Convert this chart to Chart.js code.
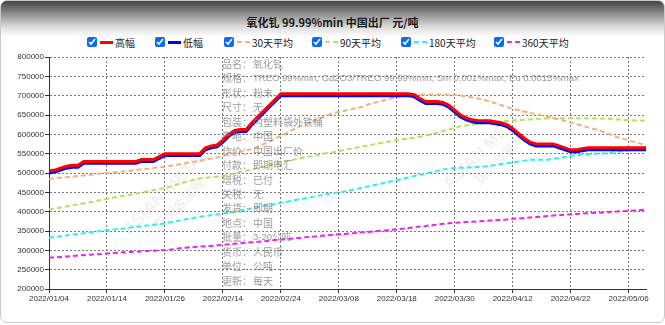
<!DOCTYPE html>
<html><head><meta charset="utf-8">
<script src="https://cdn.jsdelivr.net/npm/chart.js@4/dist/chart.umd.min.js"></script>
<style>
html,body{margin:0;padding:0;background:#fff;}
#frame{position:absolute;left:0;top:0;width:663px;height:321px;border:1px solid #c8c8c8;border-radius:7px;
 background:linear-gradient(#444 0px,#8f8f8f 13px,#dcdcdc 26px,#fff 36px,#fff 100%);overflow:hidden;}
#title{position:absolute;left:0;width:665px;top:14px;text-align:center;font:bold 11px "Noto Sans CJK SC",sans-serif;color:#1a1a1a;}
.lg{position:absolute;top:36px;height:12px;display:flex;align-items:center;font:10px "Noto Sans CJK SC",sans-serif;color:#222;white-space:nowrap;}
.lg input{width:10px;height:10px;margin:0 3px 0 0;accent-color:#0a6cf0;}
.sw{display:inline-block;width:13px;height:0;margin-right:2px;}
#c{position:absolute;left:0;top:0;}
</style></head>
<body>
<div id="frame"></div>
<div id="title">氧化钆 99.99%min 中国出厂 元/吨</div>
<div id="legend"></div>
<canvas id="c" width="665" height="325"></canvas>
<script>
const labels = [
"2022/01/04","2022/01/05","2022/01/06","2022/01/07","2022/01/08","2022/01/09","2022/01/10","2022/01/11","2022/01/12","2022/01/13",
"2022/01/14","2022/01/15","2022/01/17","2022/01/18","2022/01/19","2022/01/20","2022/01/21","2022/01/22","2022/01/24","2022/01/25",
"2022/01/26","2022/01/27","2022/01/28","2022/01/29","2022/01/30","2022/02/07","2022/02/08","2022/02/09","2022/02/10","2022/02/11",
"2022/02/14","2022/02/15","2022/02/16","2022/02/17","2022/02/18","2022/02/19","2022/02/20","2022/02/21","2022/02/22","2022/02/23",
"2022/02/24","2022/02/25","2022/02/26","2022/02/28","2022/03/01","2022/03/02","2022/03/03","2022/03/04","2022/03/05","2022/03/07",
"2022/03/08","2022/03/09","2022/03/10","2022/03/11","2022/03/12","2022/03/13","2022/03/14","2022/03/15","2022/03/16","2022/03/17",
"2022/03/18","2022/03/19","2022/03/21","2022/03/22","2022/03/23","2022/03/24","2022/03/25","2022/03/26","2022/03/28","2022/03/29",
"2022/03/30","2022/03/31","2022/04/01","2022/04/02","2022/04/06","2022/04/07","2022/04/08","2022/04/09","2022/04/10","2022/04/11",
"2022/04/12","2022/04/13","2022/04/14","2022/04/15","2022/04/16","2022/04/17","2022/04/18","2022/04/19","2022/04/20","2022/04/21",
"2022/04/22","2022/04/23","2022/04/24","2022/04/25","2022/04/26","2022/04/27","2022/04/28","2022/04/29","2022/04/30","2022/05/05",
"2022/05/06","2022/05/07","2022/05/09","2022/05/10"];

const high = [
505000,507500,512500,517500,520000,520000,530000,530000,530000,530000,
530000,530000,530000,530000,530000,530000,535000,535000,535000,542500,
550000,550000,550000,550000,550000,550000,550000,565000,570000,572500,
585000,600000,610000,612500,612500,630000,645000,660000,675000,690000,
705000,705000,705000,705000,705000,705000,705000,705000,705000,705000,
705000,705000,705000,705000,705000,705000,705000,705000,705000,705000,
705000,705000,705000,702500,692500,685000,685000,685000,682500,675000,
662500,650000,642500,637500,635000,635000,635000,632500,630000,625000,
615000,602500,590000,580000,575000,575000,575000,575000,570000,565000,
560000,560000,562500,565000,565000,565000,565000,565000,565000,565000,
565000,565000,565000,565000];

const low = [
500000,502500,507500,512500,515000,515000,525000,525000,525000,525000,
525000,525000,525000,525000,525000,525000,530000,530000,530000,537500,
545000,545000,545000,545000,545000,545000,545000,560000,565000,567500,
580000,595000,605000,607500,607500,625000,640000,655000,670000,685000,
700000,700000,700000,700000,700000,700000,700000,700000,700000,700000,
700000,700000,700000,700000,700000,700000,700000,700000,700000,700000,
700000,700000,700000,697500,687500,680000,680000,680000,677500,670000,
657500,645000,637500,632500,630000,630000,630000,627500,625000,620000,
610000,597500,585000,575000,570000,570000,570000,570000,565000,560000,
555000,555000,557500,560000,560000,560000,560000,560000,560000,560000,
560000,560000,560000,560000];

const avg30 = [
484500,486000,487500,489000,490500,492000,493500,495000,497000,498500,
500000,501500,503000,504500,506000,507500,509500,511000,513000,514500,
516300,518500,521000,524000,526500,529000,531500,534500,537500,540000,
544000,547500,551000,554500,558000,562000,568000,574500,581000,588500,
596000,604000,611500,619000,625000,631000,637000,643000,649000,655000,
658000,661000,664500,667500,670500,677000,681000,685000,689000,693000,
696500,700000,703000,703000,703000,703000,703000,703000,703000,702000,
701500,700500,698000,695500,692700,689000,685000,680500,676000,671000,
665500,662000,659000,655500,652500,649000,645500,642000,638500,634500,
630600,626500,622500,618000,614000,610000,604000,598500,593000,588500,
584000,580000,576000,572500];

const avg90 = [
406000,408500,411000,413500,416500,419000,421500,424500,427000,430000,
433000,436000,438500,441000,444000,446500,449500,452500,455500,458500,
461000,465500,470000,474000,478500,482500,486000,487500,489000,490500,
492000,495500,499000,502500,506000,509500,513000,516500,520000,523500,
527000,530500,534000,537000,540000,543000,545500,548500,551500,554000,
557000,560000,563000,565500,568500,571500,574000,577000,579500,582000,
584500,587000,589000,591500,593500,597000,600500,604500,608500,612500,
616500,621000,623000,625000,627000,629000,631000,632500,633500,634500,
635500,636500,637500,638500,639500,640500,641000,641500,641500,641500,
641500,641500,641500,641500,641500,641000,640500,639500,638500,637500,
636500,636000,635500,635000];

const avg180 = [
332500,334500,336500,338500,340500,342000,344000,346000,348000,350000,
352000,353500,355500,357000,359000,361000,362500,364500,366000,368000,
369500,372500,375500,378500,381500,384500,387000,388500,390500,392500,
394500,397500,400500,403000,406000,408500,411500,414500,417000,420000,
423000,425500,428500,431500,434000,437000,440000,442500,445500,448000,
449500,452500,455500,458500,462000,465000,468500,471500,475000,478500,
481500,485000,488500,492000,495500,499000,502000,505500,509000,512000,
513000,513500,514000,515000,515500,516500,518500,520500,523000,525500,
527500,529500,532000,534000,534000,534000,534000,536500,539000,541500,
544000,546500,547500,548500,549500,550500,551000,553000,555000,557000,
559000,561000,563500,565000];

const avg360 = [
281000,282000,283000,284000,285500,286500,287500,288500,289500,290500,
292000,293000,294000,295000,295500,296500,297500,298500,299000,300000,
301000,302000,304000,306000,307500,308500,309500,310500,311500,313000,
314000,315500,317000,318000,319500,321000,322000,323500,325000,326500,
327500,329000,330500,332000,333500,334500,336000,337500,339000,340000,
341500,342500,344000,345000,346500,347500,349000,350500,351500,353000,
354500,356000,358000,359500,361500,363000,365000,366500,368500,370000,
371000,372000,373000,374000,375000,376000,377000,378000,379000,380000,
381500,382500,383500,385000,386000,387500,388500,390000,391000,392000,
393000,394000,395000,396000,396500,397500,398500,399500,400500,401000,
402000,403000,404000,405000];

const seriesNames = ["高幅","低幅","30天平均","90天平均","180天平均","360天平均"];
const yTicksMin = 200000, yTicksMax = 800000, yStep = 50000;

const infoLabels = ["品名：","规格：","形状：","尺寸：","包装：","产地：","作价：","付款：","增税：","关税：","发货：","地点：","批量：","货币：","单位：","更新："];
const infoValues = ["氧化钆","TREO 99%min, Gd2O3/TREO 99.99%min, Sm 0.001%max, Eu 0.0015%max","粉末","无","内塑料袋外铁桶","中国","中国出厂价","即期电汇","已付","无","即期","中国","3-20公吨","人民币","公吨","每天"];

const colors = ["#ff0000","#0000ff","#f4b07c","#b3e263","#2ef0f0","#f020f0"];
const seriesData = [high, low, avg30, avg90, avg180, avg360];

// legend (HTML)
const legendX = [87,155,224,312,401,494];
const legend = document.getElementById('legend');
seriesNames.forEach((n,i)=>{
  const d = document.createElement('div');
  d.className='lg'; d.style.left = legendX[i]+'px';
  const cb = document.createElement('input'); cb.type='checkbox'; cb.checked=true;
  const sw = document.createElement('span'); sw.className='sw';
  sw.style.borderTop = (i<2 ? '3px solid ' : '2px dashed ') + colors[i];
  const t = document.createElement('span'); t.textContent = n;
  d.appendChild(cb); d.appendChild(sw); d.appendChild(t);
  legend.appendChild(d);
});

const overlay = {
  id:'overlay',
  beforeDatasetsDraw(chart){
    const ctx = chart.ctx;
    ctx.save();
    ctx.fillStyle='rgba(150,150,150,0.13)';
    ctx.font='bold 17px "Liberation Sans", Arial, sans-serif';
    [[170,195],[490,150]].forEach(([x,y])=>{
      ctx.save(); ctx.translate(x,y); ctx.rotate(-Math.PI/4);
      ctx.textAlign='center'; ctx.fillText('ASIAN METAL',0,0);
      ctx.font='bold 13px "Noto Sans CJK SC", sans-serif';
      ctx.fillText('亚洲金属网',0,18);
      ctx.restore();
    });
    ctx.restore();
  },
  afterDatasetsDraw(chart){
    const ctx = chart.ctx;
    ctx.save();
    ctx.fillStyle='rgba(120,120,120,0.75)';
    ctx.textBaseline='middle';
    infoLabels.forEach((l,i)=>{
      const y = 64 + i*14.47;
      ctx.font='10px "Noto Sans CJK SC", sans-serif';
      ctx.fillText(l,222,y);
      ctx.font='9.5px "Liberation Sans", Arial, "Noto Sans CJK SC", sans-serif';
      if (/[\u4e00-\u9fff]/.test(infoValues[i].charAt(0))) ctx.font='10px "Noto Sans CJK SC", sans-serif';
      ctx.fillText(infoValues[i],253,y);
    });
    ctx.restore();
  }
};

const ds = seriesData.map((d,i)=>({
  label: seriesNames[i], data: d, borderColor: colors[i], backgroundColor: colors[i],
  borderWidth: i<2 ? 3 : 2, borderDash: i<2 ? [] : [5,3], pointRadius:0, tension:0, fill:false
}));

new Chart(document.getElementById('c'), {
  type:'line',
  data:{labels, datasets: ds},
  options:{
    responsive:false, animation:false, events:[],
    layout:{padding:{top:57,left:0,right:19,bottom:0}},
    plugins:{legend:{display:false}, title:{display:false}, tooltip:{enabled:false}},
    scales:{
      x:{
        grid:{color:'#777', lineWidth:1, tickLength:4, tickColor:'#333'},
        border:{display:true, color:'#333', width:1, dash:[2,2]},
        ticks:{autoSkip:false, maxRotation:0, minRotation:0, padding:1, color:'#333',
          font:{family:'"Liberation Sans", Arial, sans-serif', size:8}},
        afterBuildTicks(axis){ axis.ticks = axis.ticks.filter(t => t.value % 10 === 0); },
        afterFit(axis){ axis.height = 36; }
      },
      y:{
        min:yTicksMin, max:yTicksMax,
        grid:{color:'#777', lineWidth:1, tickLength:4, tickColor:'#333'},
        border:{display:true, color:'#333', width:1, dash:[2,2]},
        ticks:{stepSize:yStep, padding:1, color:'#333',
          font:{family:'"Liberation Sans", Arial, sans-serif', size:8},
          callback:(v)=>String(v)},
        afterFit(axis){ axis.width = 49; }
      }
    }
  },
  plugins:[overlay]
});
</script>
</body></html>
